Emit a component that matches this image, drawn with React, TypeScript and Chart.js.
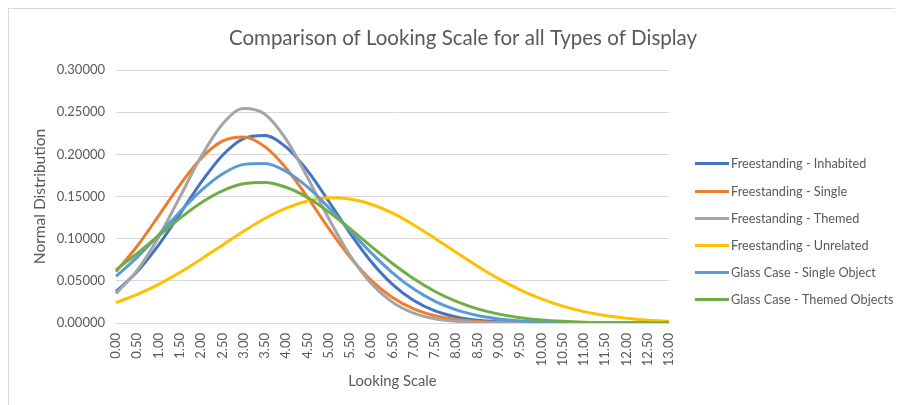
import { useEffect, useRef } from "react";
import { Chart, registerables } from "chart.js";

Chart.register(...registerables);

// Looking scale categories (x axis)
const lookingScale = [
  "0.00", "0.50", "1.00", "1.50", "2.00", "2.50", "3.00", "3.50", "4.00",
  "4.50", "5.00", "5.50", "6.00", "6.50", "7.00", "7.50", "8.00", "8.50",
  "9.00", "9.50", "10.00", "10.50", "11.00", "11.50", "12.00", "12.50", "13.00",
];

// Normal distribution values per display type
const freestandingInhabited = [
  0.0372, 0.0610, 0.0924, 0.1291, 0.1667, 0.1987, 0.2187, 0.2222, 0.2085,
  0.1806, 0.1444, 0.1066, 0.0727, 0.0458, 0.0266, 0.0143, 0.0071, 0.0032,
  0.0014, 0.0005, 0.0002, 0.0001, 0.0000, 0.0000, 0.0000, 0.0000, 0.0000,
];
const freestandingSingle = [
  0.0608, 0.0913, 0.1270, 0.1636, 0.1952, 0.2156, 0.2207, 0.2091, 0.1835,
  0.1492, 0.1123, 0.0783, 0.0506, 0.0302, 0.0167, 0.0086, 0.0041, 0.0018,
  0.0007, 0.0003, 0.0001, 0.0000, 0.0000, 0.0000, 0.0000, 0.0000, 0.0000,
];
const freestandingThemed = [
  0.0349, 0.0627, 0.1018, 0.1492, 0.1973, 0.2358, 0.2543, 0.2476, 0.2177,
  0.1728, 0.1239, 0.0802, 0.0468, 0.0247, 0.0118, 0.0051, 0.0020, 0.0007,
  0.0002, 0.0001, 0.0000, 0.0000, 0.0000, 0.0000, 0.0000, 0.0000, 0.0000,
];
const freestandingUnrelated = [
  0.0241, 0.0338, 0.0458, 0.0599, 0.0757, 0.0923, 0.1088, 0.1239, 0.1362,
  0.1447, 0.1485, 0.1471, 0.1408, 0.1302, 0.1163, 0.1003, 0.0836, 0.0673,
  0.0523, 0.0393, 0.0285, 0.0200, 0.0135, 0.0088, 0.0056, 0.0034, 0.0020,
];
const glassCaseSingle = [
  0.0553, 0.0781, 0.1043, 0.1316, 0.1569, 0.1767, 0.1881, 0.1891, 0.1797,
  0.1614, 0.1369, 0.1097, 0.0831, 0.0595, 0.0402, 0.0257, 0.0155, 0.0089,
  0.0048, 0.0024, 0.0012, 0.0005, 0.0002, 0.0001, 0.0000, 0.0000, 0.0000,
];
const glassCaseThemed = [
  0.0630, 0.0825, 0.1034, 0.1241, 0.1426, 0.1568, 0.1652, 0.1667, 0.1610,
  0.1489, 0.1318, 0.1118, 0.0908, 0.0706, 0.0525, 0.0374, 0.0256, 0.0167,
  0.0105, 0.0063, 0.0036, 0.0020, 0.0010, 0.0005, 0.0003, 0.0001, 0.0001,
];

const seriesNames = [
  "Freestanding - Inhabited",
  "Freestanding - Single",
  "Freestanding - Themed",
  "Freestanding - Unrelated",
  "Glass Case - Single Object",
  "Glass Case - Themed Objects",
];
const seriesValues = [
  freestandingInhabited,
  freestandingSingle,
  freestandingThemed,
  freestandingUnrelated,
  glassCaseSingle,
  glassCaseThemed,
];
const seriesColors = ["#4472C4", "#ED7D31", "#A5A5A5", "#FFC000", "#5B9BD5", "#70AD47"];

const FONT = "Lato, 'Open Sans', sans-serif";
const TEXT = "#595959";
const GRID = "#D9D9D9";

// Center the title across the whole canvas rather than between the paddings
const fullWidthTitle = {
  id: "fullWidthTitle",
  afterLayout(chart: any) {
    const t = chart.titleBlock;
    if (t) {
      t.left = 0;
      t.right = chart.width;
      t.width = chart.width;
    }
  },
};

// Legend drawn as a column of line swatches beside the plot
const sideLegend = {
  id: "sideLegend",
  afterDraw(chart: any) {
    const ctx = chart.ctx;
    ctx.save();
    ctx.font = `12.7px ${FONT}`;
    ctx.fillStyle = TEXT;
    ctx.textBaseline = "middle";
    ctx.textAlign = "left";
    chart.data.datasets.forEach((ds: any, i: number) => {
      const y = Math.round(154.3 + i * 27.2) + 0.5;
      ctx.strokeStyle = ds.borderColor;
      ctx.lineWidth = 3;
      ctx.beginPath();
      ctx.moveTo(686, y);
      ctx.lineTo(720, y);
      ctx.stroke();
      ctx.fillText(ds.label, 722, y);
    });
    ctx.restore();
  },
};

export default function App() {
  const canvasRef = useRef<HTMLCanvasElement | null>(null);

  useEffect(() => {
    if (!canvasRef.current) return;
    const chart = new Chart(canvasRef.current, {
      type: "line",
      data: {
        labels: lookingScale,
        datasets: seriesNames.map((name, i) => ({
          label: name,
          data: seriesValues[i],
          borderColor: seriesColors[i],
          backgroundColor: seriesColors[i],
          borderWidth: 3,
          pointRadius: 0,
          pointHoverRadius: 0,
          fill: false,
          cubicInterpolationMode: "monotone" as const,
          order: seriesNames.length - i,
        })),
      },
      options: {
        responsive: false,
        animation: false,
        devicePixelRatio: 1,
        layout: { padding: { left: 22, right: 248, top: 0, bottom: 15 } },
        plugins: {
          legend: { display: false },
          tooltip: { enabled: false },
          title: {
            display: true,
            text: "Comparison of Looking Scale for all Types of Display",
            color: TEXT,
            font: { family: FONT, size: 20.5, weight: "normal" },
            padding: { top: 16.7, bottom: 19.7 },
          },
        },
        scales: {
          x: {
            type: "category",
            offset: false,
            grid: { display: false, drawTicks: false },
            border: { display: true, color: GRID, width: 1 },
            ticks: {
              autoSkip: false,
              maxRotation: 90,
              minRotation: 90,
              padding: 10,
              color: TEXT,
              font: { family: FONT, size: 13 },
            },
            title: {
              display: true,
              text: "Looking Scale",
              color: TEXT,
              font: { family: FONT, size: 14.8 },
              padding: 0,
            },
            afterFit(scale: any) {
              scale.height = 67;
            },
          },
          y: {
            min: 0,
            max: 0.3,
            grid: { color: GRID, lineWidth: 1, drawTicks: false },
            border: { display: false },
            ticks: {
              stepSize: 0.05,
              padding: 11,
              color: TEXT,
              font: { family: FONT, size: 13 },
              callback: (v: any) => Number(v).toFixed(5),
            },
            title: {
              display: true,
              text: "Normal Distribution",
              color: TEXT,
              font: { family: FONT, size: 15.5 },
              padding: 0,
            },
            afterFit(scale: any) {
              scale.width = 85;
            },
          },
        },
      },
      plugins: [fullWidthTitle, sideLegend],
    });
    return () => chart.destroy();
  }, []);

  return (
    <div
      style={{
        position: "relative",
        width: 895,
        height: 397,
        overflow: "hidden",
        borderTop: `1px solid ${GRID}`,
        borderLeft: `1px solid ${GRID}`,
        boxSizing: "border-box",
        background: "#ffffff",
      }}
    >
      <canvas
        ref={canvasRef}
        width={908}
        height={396}
        style={{ position: "absolute", left: 0, top: 0, width: 908, height: 396 }}
      />
    </div>
  );
}
